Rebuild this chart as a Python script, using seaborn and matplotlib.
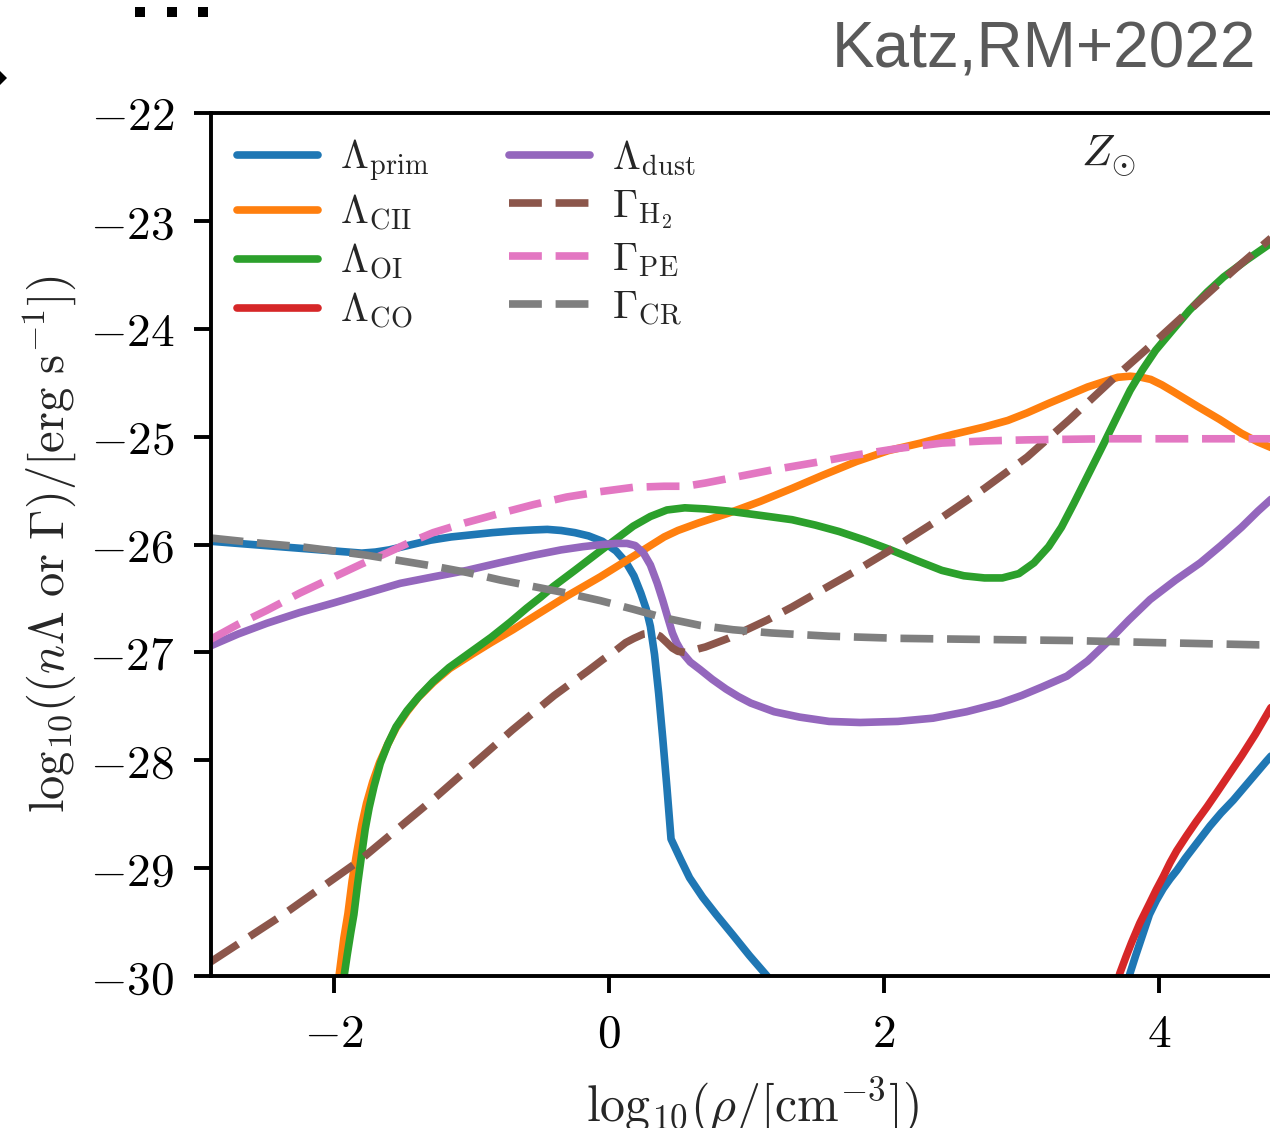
import numpy as np
import pandas as pd
import matplotlib
matplotlib.use("Agg")
import matplotlib.pyplot as plt
from matplotlib.patches import Rectangle, Polygon
from matplotlib.ticker import FixedLocator, FuncFormatter
import seaborn as sns

# ---------------------------------------------------------------
# Cooling (Lambda) and heating (Gamma) rates at solar metallicity
# x: log10(rho / cm^-3), y: log10 rate [erg s^-1]
# ---------------------------------------------------------------
prim_x = [-2.9, -2.6, -2.3, -2.0, -1.8, -1.7, -1.6, -1.5, -1.4, -1.3, -1.15,
          -1.0, -0.85, -0.7, -0.55, -0.45, -0.35, -0.25, -0.15, -0.05, 0.05,
          0.12, 0.18, 0.23, 0.27, 0.30, 0.33, 0.36, 0.39, 0.42, 0.45, 0.52,
          0.585, 0.68, 0.778, 0.90, 1.02, 1.142, 1.18]
prim_y = [-25.97, -26.00, -26.03, -26.06, -26.08, -26.07, -26.05, -26.02,
          -25.99, -25.96, -25.93, -25.91, -25.89, -25.875, -25.865, -25.86,
          -25.87, -25.89, -25.92, -25.97, -26.06, -26.16, -26.29, -26.45,
          -26.60, -26.76, -27.02, -27.38, -27.80, -28.25, -28.73, -28.92,
          -29.09, -29.27, -29.43, -29.62, -29.81, -29.99, -30.05]
prim_hi_x = [3.75, 3.79, 3.83, 3.88, 3.93, 3.98, 4.03, 4.08, 4.13, 4.19, 4.25,
             4.31, 4.37, 4.45, 4.54, 4.62, 4.70, 4.78, 4.85]
prim_hi_y = [-30.15, -29.97, -29.81, -29.62, -29.43, -29.30, -29.19, -29.10,
             -29.02, -28.91, -28.81, -28.71, -28.61, -28.49, -28.37, -28.25,
             -28.13, -28.01, -27.91]

cii_x = [-1.975, -1.955, -1.93, -1.90, -1.87, -1.835, -1.80, -1.765, -1.72,
         -1.67, -1.61, -1.55, -1.47, -1.39, -1.28, -1.16, -1.00, -0.86, -0.70,
         -0.55, -0.31, -0.065, 0.175, 0.30, 0.40, 0.50, 0.65, 0.866, 1.10,
         1.33, 1.55, 1.80, 2.03, 2.265, 2.50, 2.73, 2.90, 3.04, 3.20, 3.35,
         3.48, 3.60, 3.70, 3.79, 3.87, 3.94, 4.02, 4.10, 4.19, 4.28, 4.44,
         4.60, 4.72, 4.85]
cii_y = [-30.10, -29.90, -29.65, -29.42, -29.12, -28.85, -28.60, -28.40,
         -28.20, -28.02, -27.85, -27.70, -27.55, -27.42, -27.28, -27.15,
         -27.02, -26.91, -26.79, -26.67, -26.48, -26.30, -26.11, -26.01,
         -25.93, -25.87, -25.80, -25.71, -25.60, -25.48, -25.36, -25.23,
         -25.13, -25.06, -24.98, -24.91, -24.85, -24.78, -24.69, -24.61,
         -24.54, -24.49, -24.45, -24.44, -24.45, -24.47, -24.52, -24.58,
         -24.65, -24.72, -24.84, -24.97, -25.05, -25.12]

oi_x = [-1.94, -1.927, -1.905, -1.88, -1.857, -1.83, -1.80, -1.775, -1.746,
        -1.71, -1.665, -1.61, -1.55, -1.47, -1.385, -1.28, -1.164, -1.00,
        -0.858, -0.72, -0.60, -0.50, -0.407, -0.25, -0.065, 0.05, 0.175, 0.30,
        0.42, 0.55, 0.70, 0.866, 1.10, 1.33, 1.50, 1.673, 1.86, 2.048, 2.24,
        2.42, 2.58, 2.73, 2.86, 2.98, 3.09, 3.197, 3.29, 3.38, 3.49, 3.60,
        3.70, 3.79, 3.88, 3.975, 4.10, 4.22, 4.35, 4.47, 4.64, 4.81, 4.85]
oi_y = [-30.10, -29.99, -29.80, -29.60, -29.43, -29.15, -28.87, -28.64,
        -28.44, -28.24, -28.03, -27.85, -27.69, -27.54, -27.41, -27.27,
        -27.14, -26.99, -26.86, -26.72, -26.59, -26.49, -26.39, -26.24,
        -26.06, -25.95, -25.83, -25.74, -25.68, -25.66, -25.67, -25.69,
        -25.73, -25.77, -25.82, -25.88, -25.96, -26.05, -26.15, -26.24,
        -26.29, -26.31, -26.31, -26.27, -26.17, -26.02, -25.84, -25.62,
        -25.34, -25.06, -24.80, -24.57, -24.38, -24.20, -24.01, -23.83,
        -23.66, -23.52, -23.36, -23.21, -23.17]

co_x = [3.69, 3.716, 3.76, 3.80, 3.86, 3.934, 3.98, 4.03, 4.08, 4.128, 4.20,
        4.27, 4.35, 4.42, 4.51, 4.60, 4.70, 4.81, 4.85]
co_y = [-30.08, -29.97, -29.82, -29.69, -29.51, -29.32, -29.20, -29.08, -28.95,
        -28.84, -28.70, -28.57, -28.43, -28.30, -28.13, -27.96, -27.76,
        -27.52, -27.44]

dust_x = [-2.9, -2.7, -2.49, -2.25, -2.0, -1.76, -1.52, -1.28, -1.035, -0.80,
          -0.55, -0.35, -0.19, -0.05, 0.05, 0.13, 0.19, 0.25, 0.30, 0.35, 0.39,
          0.42, 0.46, 0.49, 0.53, 0.59, 0.662, 0.75, 0.85, 0.94, 1.03, 1.20,
          1.385, 1.60, 1.825, 2.10, 2.356, 2.60, 2.844, 3.00, 3.15, 3.33,
          3.48, 3.62, 3.78, 3.935, 4.12, 4.30, 4.45, 4.60, 4.72, 4.85]
dust_y = [-26.94, -26.83, -26.73, -26.63, -26.54, -26.45, -26.36, -26.30,
          -26.24, -26.17, -26.10, -26.05, -26.02, -26.00, -25.99, -25.99,
          -26.01, -26.08, -26.19, -26.36, -26.52, -26.65, -26.82, -26.91,
          -27.00, -27.09, -27.16, -27.25, -27.34, -27.41, -27.47, -27.55,
          -27.60, -27.64, -27.65, -27.64, -27.61, -27.55, -27.47, -27.40,
          -27.32, -27.22, -27.08, -26.91, -26.70, -26.51, -26.33, -26.17,
          -26.01, -25.84, -25.69, -25.54]

h2_x = [-2.9, -2.37, -1.816, -1.26, -0.705, -0.40, -0.153, -0.05, 0.05, 0.12,
        0.18, 0.25, 0.32, 0.37, 0.42, 0.46, 0.50, 0.55, 0.61, 0.70, 0.866,
        1.00, 1.15, 1.33, 1.55, 1.80, 2.10, 2.42, 2.73, 3.04, 3.35, 3.67,
        3.98, 4.28, 4.55, 4.85]
h2_y = [-29.87, -29.43, -28.93, -28.34, -27.72, -27.40, -27.17, -27.07, -26.98,
        -26.91, -26.87, -26.83, -26.82, -26.85, -26.91, -26.96, -26.99,
        -27.00, -26.98, -26.95, -26.87, -26.79, -26.70, -26.58, -26.42,
        -26.24, -26.01, -25.75, -25.48, -25.19, -24.84, -24.46, -24.11,
        -23.76, -23.45, -23.12]

pe_x = [-2.9, -2.7, -2.49, -2.25, -2.0, -1.8, -1.62, -1.45, -1.28, -1.05,
        -0.79, -0.55, -0.31, -0.065, 0.175, 0.40, 0.556, 0.70, 0.90, 1.18,
        1.50, 1.80, 2.10, 2.42, 2.73, 3.04, 3.6, 4.2, 4.85]
pe_y = [-26.88, -26.74, -26.61, -26.45, -26.30, -26.18, -26.08, -25.98, -25.89,
        -25.80, -25.71, -25.63, -25.56, -25.51, -25.47, -25.46, -25.46,
        -25.43, -25.38, -25.31, -25.24, -25.17, -25.11, -25.06, -25.04,
        -25.03, -25.02, -25.02, -25.02]

cr_x = [-2.9, -2.6, -2.25, -2.0, -1.76, -1.52, -1.28, -1.03, -0.79, -0.55,
        -0.31, -0.065, 0.175, 0.40, 0.662, 0.90, 1.18, 1.60, 2.11, 2.70, 3.35,
        4.0, 4.72, 4.85]
cr_y = [-25.94, -25.98, -26.02, -26.06, -26.10, -26.15, -26.20, -26.26, -26.33,
        -26.39, -26.45, -26.52, -26.60, -26.68, -26.75, -26.79, -26.82,
        -26.85, -26.87, -26.88, -26.89, -26.91, -26.93, -26.93]

labels = [r"$\Lambda_{\rm prim}$", r"$\Lambda_{\rm CII}$", r"$\Lambda_{\rm OI}$",
          r"$\Lambda_{\rm CO}$", r"$\Lambda_{\rm dust}$", r"$\Gamma_{\rm H_2}$",
          r"$\Gamma_{\rm PE}$", r"$\Gamma_{\rm CR}$"]
colors = ["#1f77b4", "#ff7f0e", "#2ca02c", "#d62728", "#9467bd", "#8c564b",
          "#e377c2", "#7f7f7f"]

x_ticks = [-2, 0, 2, 4]
y_ticks = [-30, -29, -28, -27, -26, -25, -24, -23, -22]

# ---------------------------------------------------------------
# long-form table: one row per point, one unit per drawn segment
# ---------------------------------------------------------------
segments = [
    (labels[0], "prim_lo", prim_x, prim_y),
    (labels[0], "prim_hi", prim_hi_x, prim_hi_y),
    (labels[1], "cii", cii_x, cii_y),
    (labels[2], "oi", oi_x, oi_y),
    (labels[3], "co", co_x, co_y),
    (labels[4], "dust", dust_x, dust_y),
    (labels[5], "h2", h2_x, h2_y),
    (labels[6], "pe", pe_x, pe_y),
    (labels[7], "cr", cr_x, cr_y),
]
frames = [pd.DataFrame({"logn": xs, "rate": ys, "curve": lab, "seg": seg})
          for lab, seg, xs, ys in segments]
df = pd.concat(frames, ignore_index=True)

palette = dict(zip(labels, colors))
dashes = {lab: ("" if lab.startswith(r"$\Lambda") else (4.3, 1.8)) for lab in labels}

# ---------------------------------------------------------------
sns.set_theme(style="ticks")
plt.rcParams["mathtext.fontset"] = "cm"
plt.rcParams["font.family"] = ["DejaVu Sans"]

W, H = 1270, 1128
LW = 5.5
fig = plt.figure(figsize=(W / 100, H / 100), dpi=100)
fig.patch.set_facecolor("white")

ax_left = 210.5
ax_w = 609 + 137.5 * 6.0 - ax_left
ax = fig.add_axes([ax_left / W, (H - 976) / H, ax_w / W, 863 / H])

sns.lineplot(data=df, x="logn", y="rate", hue="curve", style="curve",
             units="seg", estimator=None, sort=False,
             hue_order=labels, style_order=labels,
             palette=palette, dashes=dashes, linewidth=LW, ax=ax)

ax.set_xlim(-2.9, 6.0)
ax.set_ylim(-30, -22)
ax.xaxis.set_major_locator(FixedLocator(x_ticks))
ax.yaxis.set_major_locator(FixedLocator(y_ticks))
fmt = FuncFormatter(lambda v, _: f"${int(round(v))}$")
ax.xaxis.set_major_formatter(fmt)
ax.yaxis.set_major_formatter(fmt)
ax.tick_params(axis="both", which="major", direction="out", length=12,
               width=2.8, labelsize=34, pad=14, color="black",
               labelcolor="black", top=False, right=False)
for sp in ax.spines.values():
    sp.set_visible(True)
    sp.set_linewidth(2.8)
    sp.set_color("black")

ax.set_xlabel(r"${\rm log}_{10}(\rho/[{\rm cm}^{-3}])$", fontsize=36)
ax.set_ylabel(r"${\rm log}_{10}((n\Lambda\ {\rm or}\ \Gamma)/[{\rm erg\ s^{-1}}])$",
              fontsize=35)
ax.xaxis.set_label_coords((752 - ax_left) / ax_w, -0.115)
ax.yaxis.set_label_coords((78 - ax_left) / ax_w, 0.5)

ax.text(3.43, -22.50, r"$Z_{\odot}$", fontsize=32, ha="left", va="baseline")

old = ax.get_legend()
handles = list(old.legend_handles)
texts = [t.get_text() for t in old.get_texts()]
old.remove()
for h in handles:
    h.set_linewidth(LW)
leg = ax.legend(handles, texts, ncol=2, frameon=False, fontsize=29,
                handlelength=2.0, handletextpad=0.55, columnspacing=2.0,
                labelspacing=0.2, borderpad=0, borderaxespad=0,
                loc="upper left", bbox_to_anchor=(237 / W, 1 - 138 / H),
                bbox_transform=fig.transFigure)

# citation tag and slide marks around the panel
fig.text(1256 / W, 1 - 68 / H, "Katz,RM+2022", fontsize=46, color="#5a5a5a",
         family=["Liberation Sans", "DejaVu Sans"], ha="right", va="baseline")
for x0 in (135, 167, 198):
    fig.add_artist(Rectangle((x0 / W, 1 - 17 / H), 10 / W, 10 / H,
                             transform=fig.transFigure, color="black", lw=0))
fig.add_artist(Polygon([(0, 1 - 71 / H), (7 / W, 1 - 78 / H), (0, 1 - 85 / H)],
                       closed=True, transform=fig.transFigure, color="black", lw=0))

fig.savefig("out.png", dpi=100, facecolor="white")
